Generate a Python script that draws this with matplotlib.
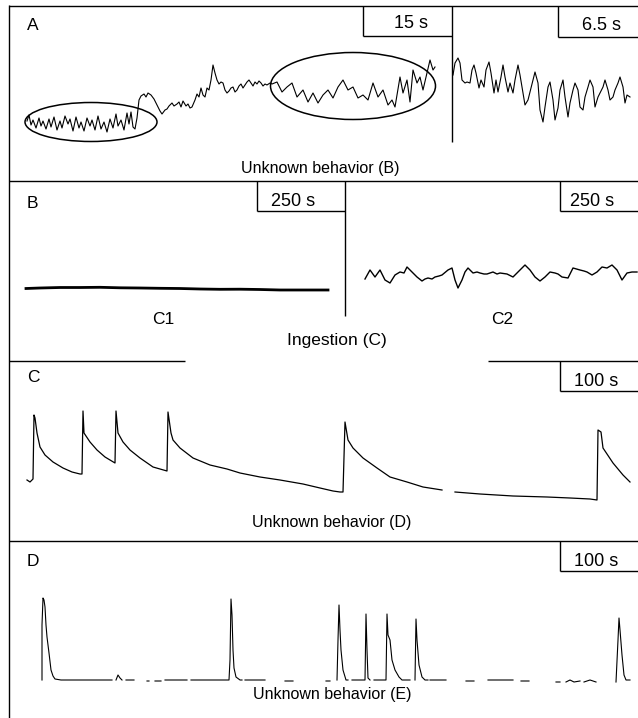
import numpy as np
import matplotlib
matplotlib.use("Agg")
import matplotlib.pyplot as plt
from matplotlib.patches import Ellipse

plt.rcParams['font.family'] = ['Liberation Sans', 'DejaVu Sans']

# ---- trace data (time offset, signal amplitude; arbitrary units) ----
# Panel A, left trace (15 s window)
a1_time = [0, 2, 4, 6, 9, 12, 14, 16, 19, 22, 24, 27, 30, 33, 35, 38, 41, 43, 46, 49, 52, 54, 57, 60,
           63, 65, 68, 71, 74, 77, 80, 83, 86, 89, 91, 94, 97, 100, 102, 104, 106, 108, 110, 112, 114,
           117, 119, 121, 124, 127, 130, 133, 135, 138, 140, 142, 145, 147, 150, 152, 154, 156, 159,
           161, 163, 165, 168, 170, 172, 174, 176, 178, 180, 182, 184, 186, 188, 190, 192, 194, 196,
           198, 200, 202, 204, 206, 208, 210, 212, 214, 216, 218, 220, 222, 224, 226, 228, 230, 232,
           234, 236, 238, 240, 243, 245, 250, 255, 260, 265, 270, 276, 281, 286, 291, 296, 301, 306,
           311, 316, 321, 326, 331, 336, 341, 346, 351, 356, 361, 365, 368, 373, 376, 380, 383, 386,
           390, 393, 396, 400, 403, 406, 408]
a1_signal = [14, 20, 10, 15, 7, 17, 9, 14, 6, 16, 8, 18, 5, 14, 7, 19, 11, 16, 4, 18, 7, 13, 4, 17,
             9, 15, 5, 19, 6, 13, 3, 16, 7, 21, 9, 15, 5, 22, 11, 23, 8, 6, 17, 35, 39,
             41, 38, 42, 40, 36, 30, 24, 21, 25, 26, 29, 32, 29, 31, 33, 28, 34, 29,
             31, 27, 28, 35, 41, 38, 47, 40, 38, 47, 45, 55, 70, 62, 55, 51, 53, 52,
             45, 42, 44, 47, 48, 43, 45, 49, 51, 47, 50, 53, 55, 52, 49, 53, 51, 54,
             52, 49, 51, 50, 52, 51, 53, 43, 48, 52, 38, 45, 33, 42, 32, 40, 45, 37,
             48, 55, 45, 48, 37, 40, 35, 52, 38, 45, 30, 35, 28, 58, 42, 55, 33, 65,
             52, 58, 45, 62, 75, 65, 68]

# Panel A, right trace (6.5 s window)
a2_time = [1, 3, 6, 8, 10, 13, 15, 18, 20, 22, 24, 27, 29, 32, 34, 37, 39, 42, 44, 46, 49, 51, 53,
           56, 58, 61, 63, 66, 68, 71, 73, 76, 78, 81, 83, 86, 88, 91, 93, 96, 98, 101, 103, 106,
           108, 111, 113, 116, 118, 121, 123, 126, 128, 131, 133, 136, 138, 141, 143, 146, 148,
           151, 153, 156, 158, 161, 163, 166, 168, 171, 173, 175, 178]
a2_signal = [50, 62, 67, 62, 45, 42, 43, 42, 55, 60, 52, 37, 45, 38, 55, 63, 52, 32, 45, 33, 48, 60, 48,
             33, 42, 32, 45, 60, 50, 32, 20, 25, 33, 45, 53, 42, 15, 3, 18, 38, 43, 25, 5, 17,
             35, 45, 28, 8, 22, 35, 42, 35, 18, 15, 28, 38, 45, 38, 18, 28, 32,
             38, 45, 35, 25, 28, 35, 42, 48, 38, 22, 30, 28]

# Panel B, C1 waveform
b1_time = [4, 18, 38, 58, 78, 98, 118, 138, 158, 178, 198, 218, 238, 258, 278, 306]
b1_signal = [6.5, 7, 7.5, 7.5, 7.7, 7.2, 7, 6.7, 6.5, 6, 5.7, 5.8, 5.5, 5, 5, 5]

# Panel B, C2 waveform
b2_time = [5, 10, 15, 20, 25, 30, 35, 40, 44, 47, 52, 57, 62, 65, 68, 72, 75, 79, 82, 88, 92, 95,
           98, 102, 105, 108, 113, 117, 120, 124, 127, 133, 137, 140, 147, 153, 158, 165, 170, 175,
           180, 185, 190, 195, 198, 202, 208, 213, 220, 224, 227, 232, 237, 242, 247, 252, 257,
           262, 267, 272, 277]
b2_signal = [13, 22, 15, 22, 12, 9, 17, 20, 19, 25, 20, 15, 11, 13, 14, 13, 15, 16, 17, 22, 24, 12,
             4, 12, 20, 24, 19, 20, 19, 18, 18, 20, 18, 19, 18, 15, 20, 27, 22, 15,
             11, 15, 20, 19, 18, 15, 14, 24, 22, 21, 20, 17, 20, 25, 24, 27, 22,
             12, 19, 20, 20]

# Panel C waveform
c_time = [2, 5, 8, 9, 10, 12, 15, 20, 28, 38, 47, 55, 57, 58, 59, 65, 72, 80, 90, 91, 93, 98, 105,
          115, 128, 142, 143, 146, 148, 155, 168, 185, 202, 215, 235, 255, 278, 295, 308, 315, 318,
          320, 323, 328, 338, 352, 365, 382, 398, 417, np.nan, 430, 455, 488, 522, 545, 565, 572,
          573, 576, 578, 588, 598, 605]
c_signal = [25, 23, 26, 90, 87, 72, 58, 50, 43, 37, 33, 31, 31, 94, 72, 63, 55, 48, 42, 94, 72, 63, 55,
            47, 38, 34, 93, 72, 65, 57, 47, 40, 36, 32, 28, 25, 21, 17, 14, 13, 13,
            83, 65, 57, 47, 37, 28, 23, 18, 15, np.nan, 13, 11, 9, 8, 7, 6, 5,
            75, 73, 57, 42, 30, 23]

# Panel D waveform (nan = gap in the recording)
nan = np.nan
d_time = [7, 7, 8, 9, 10, 11, 12, 14, 16, 18, 20, 26, 77, nan,
          81, 83, 85, 87, nan, 91, 99, nan, 112, 114, nan, 120, 126, nan, 130, 152, nan,
          156, 194, 195, 196, 197, 198, 199, 201, 205, 207, nan, 210, 230, nan, 250, 258, nan,
          291, 295, nan, 302, 303, 304, 305, 306, 308, 311, 313, nan,
          317, 325, 330, 331, 332, 333, 335, nan,
          339, 349, 351, 352, 353, 355, 357, 360, 364, 367, 375, nan,
          380, 381, 382, 384, 387, 390, 393, nan, 395, 411, nan, 431, 439, nan, 453, 478, nan,
          486, 494, nan, 521, 525, nan, 531, 535, 539, 545, nan, 549, 555, 561, nan,
          581, 583, 584, 585, 587, 589, 591, 595]
d_signal = [5, 60, 87, 85, 78, 60, 48, 32, 15, 9, 6, 5, 5, nan,
            5, 10, 7, 5, nan, 5, 5, nan, 4, 4, nan, 4, 4, nan, 5, 5, nan,
            5, 5, 25, 86, 70, 35, 17, 8, 5, 5, nan, 5, 5, nan, 4, 4, nan,
            4, 4, nan, 5, 45, 80, 55, 35, 15, 5, 5, nan,
            5, 5, 5, 71, 35, 7, 5, nan,
            5, 5, 5, 71, 50, 45, 25, 15, 8, 5, 5, nan,
            5, 66, 45, 20, 8, 5, 5, nan, 5, 5, nan, 4, 4, nan, 5, 5, nan,
            4, 4, nan, 3, 3, nan, 3, 5, 3, 4, nan, 3, 5, 3, nan,
            3, 45, 67, 55, 30, 10, 5, 5]

W, H = 638, 718
fig = plt.figure(figsize=(W / 100, H / 100), dpi=100)
ax = fig.add_axes([0, 0, 1, 1])
ax.set_xlim(0, W)
ax.set_ylim(H, 0)
ax.axis('off')

LW = 1.0
fs = 11.5      # captions
fs_scale = 13  # scale-bar labels

def line(x, y):
    ax.plot(x, y, color='black', lw=LW, solid_capstyle='butt')

# outer frame and panel separators
line([9, 9], [5, H])
line([9, W], [6, 6])
line([9, W], [181, 181])
line([9, 185], [361, 361])
line([488, W], [361, 361])
line([9, W], [541, 541])

# scale boxes
def scale_box(x0, x1, top, bottom, label, tx, ty):
    line([x0, x0], [top, bottom])
    line([x0, x1], [bottom, bottom])
    ax.text(tx, ty, label, ha='center', va='center', fontsize=fs_scale)

scale_box(363, 452, 6, 36, '15 s', 411, 24)
scale_box(558, W, 6, 37, '6.5 s', 601, 25)
scale_box(257, 345, 181, 211, '250 s', 293, 201)
scale_box(560, W, 181, 211, '250 s', 592, 201)
scale_box(560, W, 361, 391, '100 s', 596, 381)
scale_box(560, W, 541, 571, '100 s', 596, 561)

# panel dividers
line([452, 452], [6, 142])
line([345, 345], [181, 316])

# panel letters
for letter, y in [('A', 25), ('B', 203), ('C', 378), ('D', 562)]:
    ax.text(27, y, letter, ha='left', va='center', fontsize=12.5)

# captions
ax.text(320, 169, 'Unknown behavior (B)', ha='center', va='center', fontsize=fs)
ax.text(163, 320, 'C1', ha='center', va='center', fontsize=12.5)
ax.text(502, 320, 'C2', ha='center', va='center', fontsize=12.5)
ax.text(337, 341, 'Ingestion (C)', ha='center', va='center', fontsize=12.5)
ax.text(332, 522, 'Unknown behavior (D)', ha='center', va='center', fontsize=fs)
ax.text(332, 694, 'Unknown behavior (E)', ha='center', va='center', fontsize=fs)

# ellipses around the repeated wave groups
ax.add_patch(Ellipse((91, 122), 132, 39, fill=False, lw=1.1, ec='black'))
ax.add_patch(Ellipse((353, 86), 165, 67, fill=False, lw=1.1, ec='black'))

def trace_ax(left, top, width, height):
    t = fig.add_axes([left / W, 1 - (top + height) / H, width / W, height / H])
    t.set_xlim(0, width)
    t.set_ylim(0, height)
    t.axis('off')
    return t

ta1 = trace_ax(27, 55, 410, 80)
ta1.plot(a1_time, a1_signal, color='black', lw=0.8, clip_on=False)

ta2 = trace_ax(452, 55, 186, 70)
ta2.plot(a2_time, a2_signal, color='black', lw=0.8, clip_on=False)

tb1 = trace_ax(22, 280, 310, 15)
tb1.plot(b1_time, b1_signal, color='black', lw=2.0, clip_on=False)

tb2 = trace_ax(360, 260, 278, 32)
tb2.plot(b2_time, b2_signal, color='black', lw=1.0, clip_on=False)

tc = trace_ax(25, 405, 613, 100)
tc.plot(c_time, c_signal, color='black', lw=0.9, clip_on=False)

td = trace_ax(35, 595, 603, 90)
td.plot(d_time, d_signal, color='black', lw=0.8, clip_on=False)

fig.savefig('out.png', dpi=100)
